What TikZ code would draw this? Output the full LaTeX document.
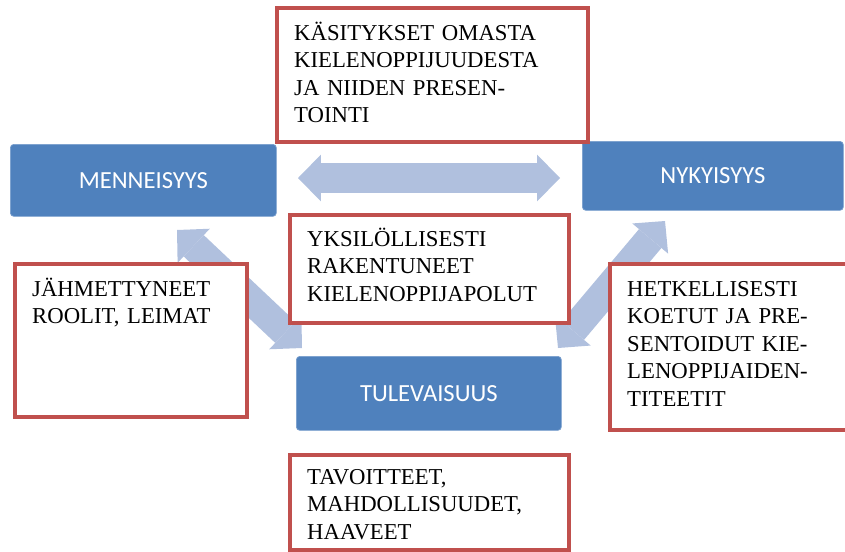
\documentclass[tikz,border=0pt]{standalone}
\usepackage{fontspec}
\setmainfont{Liberation Serif}
\newfontfamily\timefont{Carlito}
\usetikzlibrary{arrows.meta,positioning}

\definecolor{timeblue}{RGB}{79,129,189}
\definecolor{timeedge}{RGB}{120,158,205}
\definecolor{noteRed}{RGB}{192,80,77}
\definecolor{flowblue}{RGB}{176,192,222}

\begin{document}
\begin{tikzpicture}[
  x=0.03cm, y=-0.03cm,
  timebox/.style={draw=timeedge, line width=0.6pt, fill=timeblue, rounded corners=3pt, text=white, font=\timefont\fontsize{21}{25}\selectfont, inner sep=0pt, anchor=north west},
  notebox/.style={draw=noteRed, line width=3pt, fill=white, inner sep=0pt, anchor=north west},
  notetext/.style={anchor=base west, text width=9cm, align=left, inner sep=0pt, font=\fontsize{19.4}{23.6}\selectfont},
  flow/.style={draw=flowblue, line width=25pt, {Triangle[width=40pt, length=19.6pt, line width=0pt]}-{Triangle[width=40pt, length=19.6pt, line width=0pt]}}
]
  \useasboundingbox (0,0) rectangle (845,551);

  % arrow ends
  \coordinate (h1) at (298,178);
  \coordinate (h2) at (560,178);
  \coordinate (l1) at (177,230);
  \coordinate (l2) at (302,348);
  \coordinate (r1) at (558,348);
  \coordinate (r2) at (665,221);
  \draw[flow] (h1) -- (h2);
  \draw[flow] (l1) -- (l2);
  \draw[flow] (r1) -- (r2);

  % time boxes
  \node[timebox, minimum width=7.98cm, minimum height=2.16cm] (past) at (10,144) {MENNEISYYS};
  \node[timebox, minimum width=7.83cm, minimum height=2.07cm] (present) at (582,141) {NYKYISYYS};
  \node[timebox, minimum width=7.95cm, minimum height=2.22cm] (future) at (296,356) {TULEVAISUUS};

  % note boxes
  \node[notebox, minimum width=9.33cm, minimum height=4.02cm] (views) at (275,6) {};
  \node[notebox, minimum width=8.37cm, minimum height=3.24cm] (paths) at (288,213) {};
  \node[notebox, minimum width=6.96cm, minimum height=4.59cm] (roles) at (13,262) {};
  \node[notebox, minimum width=7.56cm, minimum height=4.98cm] (ids) at (608,262) {};
  \node[notebox, minimum width=8.37cm, minimum height=2.85cm] (goals) at (288,453) {};

  \node[notetext] (views-t) at (294,40) {KÄSITYKSET OMASTA\\KIELENOPPIJUUDESTA\\JA NIIDEN PRESEN-\\TOINTI};
  \node[notetext] (paths-t) at (307,246) {YKSILÖLLISESTI\\RAKENTUNEET\\KIELENOPPIJAPOLUT};
  \node[notetext] (roles-t) at (32,296) {JÄHMETTYNEET\\ROOLIT, LEIMAT};
  \node[notetext] (ids-t) at (627,296) {HETKELLISESTI\\KOETUT JA PRE-\\SENTOIDUT KIE-\\LENOPPIJAIDEN-\\TITEETIT};
  \node[notetext] (goals-t) at (307,484) {TAVOITTEET,\\MAHDOLLISUUDET,\\HAAVEET};
\end{tikzpicture}
\end{document}
